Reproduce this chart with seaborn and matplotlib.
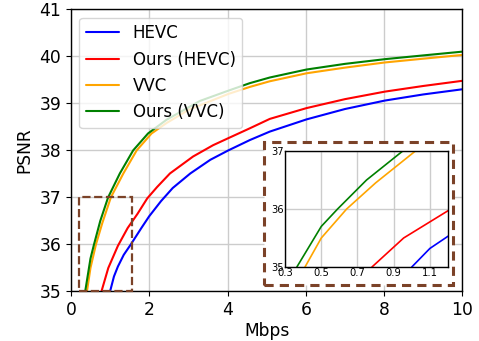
import numpy as np
import pandas as pd
import matplotlib
matplotlib.use("Agg")
import matplotlib.pyplot as plt
import seaborn as sns
from matplotlib.patches import Rectangle

# Data
hevc_x = [1.0, 1.1, 1.2, 1.35, 1.53, 1.8, 2.0, 2.3, 2.6, 3.05, 3.56, 4.02, 4.57, 5.08, 6.02, 7.0, 8.02, 9.0, 10.0]
hevc_y = [35.0, 35.32, 35.53, 35.78, 36.0, 36.35, 36.6, 36.92, 37.2, 37.51, 37.8, 38.0, 38.22, 38.4, 38.66, 38.88, 39.06, 39.19, 39.3]

ours_hevc_x = [0.78, 0.955, 1.2, 1.45, 1.7, 1.95, 2.2, 2.53, 3.12, 3.63, 4.02, 4.57, 5.08, 6.02, 7.0, 8.02, 9.0, 10.0]
ours_hevc_y = [35.0, 35.5, 35.97, 36.35, 36.65, 36.98, 37.22, 37.51, 37.87, 38.11, 38.26, 38.47, 38.67, 38.9, 39.09, 39.25, 39.37, 39.48]

vvc_x = [0.41, 0.5, 0.64, 0.8, 1.02, 1.34, 1.68, 2.06, 2.44, 3.0, 4.02, 4.57, 5.08, 6.02, 7.0, 8.02, 9.0, 10.0]
vvc_y = [35.0, 35.5, 36.0, 36.45, 37.0, 37.51, 38.0, 38.36, 38.58, 38.86, 39.2, 39.35, 39.47, 39.64, 39.76, 39.87, 39.95, 40.03]

ours_vvc_x = [0.365, 0.5, 0.59, 0.75, 0.95, 1.25, 1.59, 1.97, 2.44, 3.29, 4.02, 4.57, 5.08, 6.02, 7.0, 8.02, 9.0, 10.0]
ours_vvc_y = [35.0, 35.7, 36.0, 36.5, 37.0, 37.51, 38.0, 38.36, 38.65, 39.05, 39.27, 39.43, 39.55, 39.72, 39.84, 39.94, 40.02, 40.1]

labels = ["HEVC", "Ours (HEVC)", "VVC", "Ours (VVC)"]
colors = ["blue", "red", "orange", "green"]

series = [(hevc_x, hevc_y), (ours_hevc_x, ours_hevc_y), (vvc_x, vvc_y), (ours_vvc_x, ours_vvc_y)]
frames = []
for lab, (xs, ys) in zip(labels, series):
    frames.append(pd.DataFrame({"Mbps": xs, "PSNR": ys, "codec": lab}))
df = pd.concat(frames, ignore_index=True)
palette = dict(zip(labels, colors))

sns.set_style("ticks")
plt.rcParams['font.family'] = ['DejaVu Sans']
plt.rcParams['text.color'] = 'black'
plt.rcParams['axes.labelcolor'] = 'black'
plt.rcParams['xtick.color'] = 'black'
plt.rcParams['ytick.color'] = 'black'

fig = plt.figure(figsize=(4.79, 3.41), dpi=100)
ax = fig.add_axes([0.148, 0.1452, 0.8175, 0.8275])

sns.lineplot(data=df, x="Mbps", y="PSNR", hue="codec", palette=palette,
             hue_order=labels, sort=False, estimator=None, lw=1.5, ax=ax)
ax.set_xlim(0, 10)
ax.set_ylim(35, 41)
ax.set_xticks([0, 2, 4, 6, 8, 10])
ax.set_yticks([35, 36, 37, 38, 39, 40, 41])
ax.grid(True, color="#cccccc", lw=1.0)
ax.set_axisbelow(True)
ax.tick_params(labelsize=12.3, length=3.5, colors="black")
ax.set_xlabel("Mbps", fontsize=12.3, labelpad=2)
ax.set_ylabel("PSNR", fontsize=12.3)
for s in ax.spines.values():
    s.set_color("black")
    s.set_linewidth(1.0)
leg = ax.legend(loc="upper left", fontsize=12, title=None, framealpha=0.8)
for t in leg.get_texts():
    t.set_color("black")

brown = "#7b4228"
# zoom region marker
ax.add_patch(Rectangle((0.2, 35.0), 1.35, 2.0, fill=False, ls="--", lw=1.6,
                       ec=brown, zorder=5, clip_on=False))
# inset frame
ax.add_patch(Rectangle((0.493, 0.023), 0.483, 0.507, transform=ax.transAxes,
                       fc="white", ec=brown, ls=(0, (3, 2)), lw=2.2, zorder=6))

axin = ax.inset_axes([0.547, 0.0868, 0.416, 0.411])
axin.set_zorder(7)
sns.lineplot(data=df, x="Mbps", y="PSNR", hue="codec", palette=palette,
             hue_order=labels, sort=False, estimator=None, lw=1.2, ax=axin, legend=False)
axin.set_xlim(0.3, 1.2)
axin.set_ylim(35, 37)
axin.set_xticks([0.3, 0.5, 0.7, 0.9, 1.1])
axin.set_yticks([35, 36, 37])
axin.grid(True, color="#cccccc", lw=1.0)
axin.set_xlabel("")
axin.set_ylabel("")
axin.tick_params(labelsize=7.2, length=0, pad=1, colors="black")
for s in axin.spines.values():
    s.set_color("black")
    s.set_linewidth(1.0)

fig.savefig("out.png", dpi=100)
